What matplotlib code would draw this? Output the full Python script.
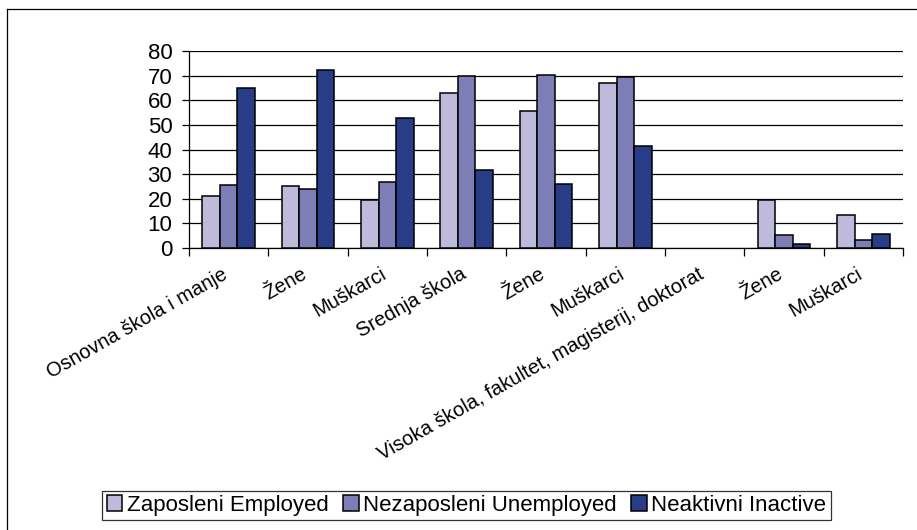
import numpy as np
import matplotlib
matplotlib.use("Agg")
import matplotlib.pyplot as plt
import matplotlib.transforms as mtransforms
from matplotlib.lines import Line2D

plt.rcParams['font.family'] = ['Liberation Sans', 'DejaVu Sans']

# kategorije i vrijednosti (u %)
kategorije = ['Osnovna škola i manje', 'Žene', 'Muškarci',
              'Srednja škola', 'Žene', 'Muškarci',
              'Visoka škola, fakultet, magisterij, doktorat', 'Žene', 'Muškarci']
zaposleni = [21.2, 25.0, 19.3, 63.1, 55.7, 66.9, 0, 19.3, 13.6]
nezaposleni = [25.7, 23.9, 26.9, 70.0, 70.4, 69.6, 0, 5.4, 3.1]
neaktivni = [65.1, 72.3, 52.6, 31.8, 26.1, 41.6, 0, 1.5, 5.7]
serije = ['Zaposleni Employed', 'Nezaposleni Unemployed', 'Neaktivni Inactive']
boje = ['#BDBADC', '#7E7EB7', '#283C88']

W, H = 917, 530
fig = plt.figure(figsize=(W / 100, H / 100), dpi=100)
ax = fig.add_axes([189 / W, 1 - 248 / H, (903 - 189) / W, (248 - 51) / H])

x = np.arange(len(kategorije))
sirina = 0.222
for i, (vals, boja) in enumerate(zip([zaposleni, nezaposleni, neaktivni], boje)):
    # nule se ne crtaju (prazna grupa)
    h = np.where(np.array(vals) == 0, np.nan, vals)
    ax.bar(x + (i - 1) * sirina, h, sirina, color=boja, edgecolor='black',
           linewidth=1.1, label=serije[i], zorder=3)

ax.set_xlim(-0.5, len(kategorije) - 0.5)
ax.set_ylim(0, 80)
ax.set_yticks(range(0, 81, 10))
ax.grid(axis='y', color='black', linewidth=0.9, zorder=0)
ax.tick_params(axis='y', labelsize=16, length=5, width=0.9, pad=7)

# kategorije: oznake rotirane, crtice između grupa
ax.set_xticks(x)
ax.set_xticklabels(kategorije, rotation=29.5, ha='right', va='top',
                   rotation_mode='anchor', fontsize=14.5)
ax.tick_params(axis='x', which='major', length=0, pad=12)
pomak = mtransforms.ScaledTranslation(-7 / 100, 0, fig.dpi_scale_trans)
for lbl in ax.get_xticklabels():
    lbl.set_transform(lbl.get_transform() + pomak)
ax.set_xticks(np.arange(-0.5, len(kategorije)), minor=True)
ax.tick_params(axis='x', which='minor', length=6, width=0.9)

for s in ['top', 'right']:
    ax.spines[s].set_visible(False)
for s in ['left', 'bottom']:
    ax.spines[s].set_linewidth(0.9)

leg = fig.legend(loc='center', bbox_to_anchor=(466.5 / W, 1 - 505.5 / H), ncol=3,
                 fontsize=16, frameon=True, fancybox=False, handlelength=0.7,
                 handleheight=0.7, handletextpad=0.2, columnspacing=0.65,
                 borderpad=0.2, borderaxespad=0)
leg.get_frame().set_edgecolor('black')
leg.get_frame().set_linewidth(0.9)

# okvir slike
fig.add_artist(Line2D([7 / W, 7 / W], [0, 1 - 9 / H], color='black', linewidth=0.9))
fig.add_artist(Line2D([7 / W, 1], [1 - 9 / H, 1 - 9 / H], color='black', linewidth=0.9))

fig.savefig('out.png', dpi=100)
